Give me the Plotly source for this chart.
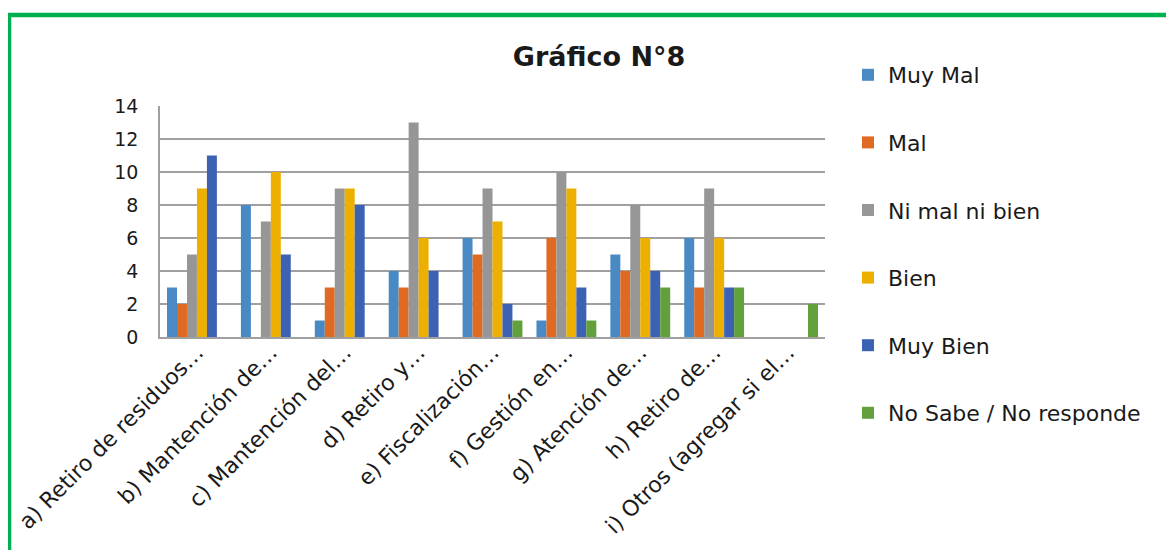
import plotly.graph_objects as go

categories = ["a) Retiro de residuos…", "b) Mantención de…", "c) Mantención del…",
              "d) Retiro y…", "e) Fiscalización…", "f) Gestión en…",
              "g) Atención de…", "h) Retiro de…", "i) Otros (agregar si el…"]
series_names = ["Muy Mal", "Mal", "Ni mal ni bien", "Bien", "Muy Bien", "No Sabe / No responde"]
muy_mal = [3, 8, 1, 4, 6, 1, 5, 6, 0]
mal = [2, 0, 3, 3, 5, 6, 4, 3, 0]
ni_mal_ni_bien = [5, 7, 9, 13, 9, 10, 8, 9, 0]
bien = [9, 10, 9, 6, 7, 9, 6, 6, 0]
muy_bien = [11, 5, 8, 4, 2, 3, 4, 3, 0]
no_sabe = [0, 0, 0, 0, 1, 1, 3, 3, 2]
colors = ["#4A8AC4", "#E06A22", "#969696", "#EEB000", "#3C62B4", "#62A03C"]

values = [muy_mal, mal, ni_mal_ni_bien, bien, muy_bien, no_sabe]
font_family = "DejaVu Sans"

fig = go.Figure()
for i, (name, vals) in enumerate(zip(series_names, values)):
    fig.add_trace(go.Bar(x=categories, y=vals, name=name, marker_color=colors[i],
                         marker_line_width=0, legendgroup=str(i)))

# page offset (body margin) = 8px
OFF = 8
W, H = 1174, 550
L, R, T, B = 160 - OFF, 825 - OFF, 106 - OFF, 337 - OFF
pw, ph = R - L, B - T
def px2x(px): return (px - OFF - L) / pw
def py2y(py): return (B - (py - OFF)) / ph

fig.update_layout(
    width=W, height=H,
    margin=dict(l=L, r=W - R, t=T, b=H - B, autoexpand=False),
    paper_bgcolor="white", plot_bgcolor="white",
    barmode="group", bargap=0.19, bargroupgap=0,
    font=dict(family=font_family, color="#222222"),
    title=dict(text="<b>Gráfico N°8</b>", x=px2x(599), xref="paper", xanchor="center",
               y=1 - (57 - OFF) / H, yref="container", yanchor="middle",
               font=dict(size=27, color="#1a1a1a", family=font_family)),
    legend=dict(x=px2x(848), y=py2y(54), xanchor="left", yanchor="top",
                font=dict(size=22, color="#1a1a1a"), tracegroupgap=36,
                bgcolor="rgba(0,0,0,0)", itemwidth=30, maxheight=520),
    showlegend=True,
)
fig.update_yaxes(range=[0, 14], dtick=2, showgrid=True, gridcolor="#A0A0A0", gridwidth=1.6,
                 showline=True, linecolor="#A0A0A0", linewidth=1.6, zeroline=False,
                 tickfont=dict(size=19, color="#1a1a1a"), ticks="", ticklabelstandoff=16,
                 automargin=False)
fig.update_xaxes(showline=True, linecolor="#A0A0A0", linewidth=1.6, tickangle=-45,
                 tickfont=dict(size=22, color="#1a1a1a"), ticks="", automargin=False,
                 ticklabelstandoff=-8)

fig.add_shape(type="rect", xref="paper", yref="paper",
              x0=px2x(9), x1=px2x(1195), y0=py2y(580), y1=py2y(15),
              line=dict(color="#00B050", width=4.5), fillcolor="rgba(0,0,0,0)", layer="above")

fig.write_html("out.html")
